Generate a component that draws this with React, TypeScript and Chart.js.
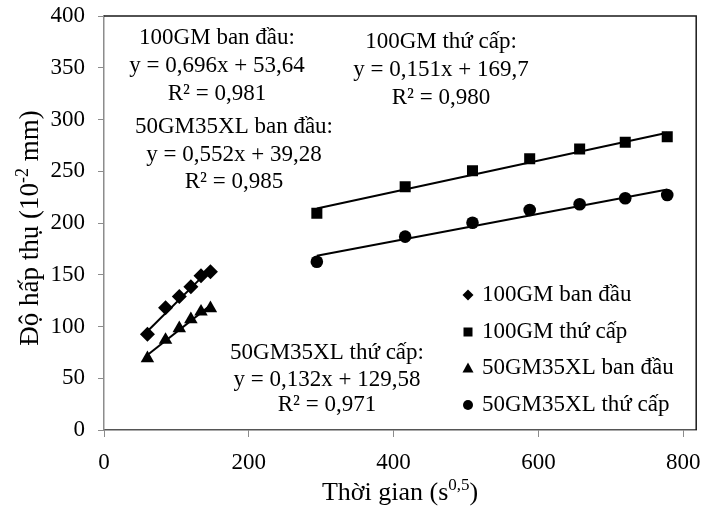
import React, { useEffect, useRef } from 'react';
import { Chart, registerables } from 'chart.js';

Chart.register(...registerables);

const seriesNames = ['100GM ban đầu', '100GM thứ cấp', '50GM35XL ban đầu', '50GM35XL thứ cấp'];
const xInitial = [60, 85, 104, 120, 134, 147];
const xSecondary = [294, 416, 509, 588, 657, 720, 778];
const y100GMInitial = [92.5, 118, 129, 138.5, 149, 153];
const y100GMSecondary = [209.4, 235, 250.5, 262, 271.5, 278, 283.4];
const y50GMInitial = [69.3, 87, 98.3, 107, 114.3, 117.6];
const y50GMSecondary = [162.6, 186.8, 200.3, 212.6, 218.1, 223.9, 227];
const trendSlopes = [0.696, 0.151, 0.552, 0.132];
const trendIntercepts = [53.64, 169.7, 39.28, 129.58];
const equationTexts = [
  ['100GM ban đầu:', 'y = 0,696x + 53,64', 'R² = 0,981'],
  ['100GM thứ cấp:', 'y = 0,151x + 169,7', 'R² = 0,980'],
  ['50GM35XL ban đầu:', 'y = 0,552x + 39,28', 'R² = 0,985'],
  ['50GM35XL thứ cấp:', 'y = 0,132x + 129,58', 'R² = 0,971'],
];
const xTicks = [0, 200, 400, 600, 800];
const yTicks = [0, 50, 100, 150, 200, 250, 300, 350, 400];
const xTitleParts = [{ t: 'Thời gian (s', sup: false }, { t: '0,5', sup: true }, { t: ')', sup: false }];
const yTitleParts = [{ t: 'Độ hấp thụ (10', sup: false }, { t: '-2', sup: true }, { t: ' mm)', sup: false }];

// layout (pixels)
const FONT = "'Liberation Serif', 'Times New Roman', serif";
const eqLayout = [
  { x: 217, y: [38, 66, 94] },
  { x: 441, y: [42, 70, 98] },
  { x: 234, y: [127, 155, 182] },
  { x: 327, y: [353, 380, 405] },
];
const legendLayout = { mx: 468, tx: 482, y: [295, 332, 368, 405] };

function drawRich(ctx: CanvasRenderingContext2D, parts: { t: string; sup: boolean }[], cx: number, cy: number, size: number) {
  const supSize = Math.round(size * 0.65);
  let total = 0;
  const widths = parts.map((p) => {
    ctx.font = `${p.sup ? supSize : size}px ${FONT}`;
    const w = ctx.measureText(p.t).width;
    total += w;
    return w;
  });
  let x = cx - total / 2;
  ctx.textAlign = 'left';
  ctx.textBaseline = 'alphabetic';
  const base = cy + size * 0.33;
  parts.forEach((p, i) => {
    ctx.font = `${p.sup ? supSize : size}px ${FONT}`;
    ctx.fillText(p.t, x, p.sup ? base - size * 0.38 : base);
    x += widths[i];
  });
}

function drawMarker(ctx: CanvasRenderingContext2D, style: string, x: number, y: number) {
  ctx.beginPath();
  if (style === 'rectRot') {
    const r = 5.5;
    ctx.moveTo(x - r, y); ctx.lineTo(x, y - r); ctx.lineTo(x + r, y); ctx.lineTo(x, y + r);
  } else if (style === 'rect') {
    ctx.rect(x - 4.5, y - 4.5, 9, 9);
  } else if (style === 'triangle') {
    ctx.moveTo(x, y - 5.5); ctx.lineTo(x + 5.5, y + 4.5); ctx.lineTo(x - 5.5, y + 4.5);
  } else {
    ctx.arc(x, y, 5, 0, Math.PI * 2);
  }
  ctx.closePath();
  ctx.fill();
}

const pointStyles = ['rectRot', 'rect', 'triangle', 'circle'];
const pointRadii = [7.5, 7.8, 7.8, 6.3];

export default function App() {
  const ref = useRef<HTMLCanvasElement>(null);
  useEffect(() => {
    const canvas = ref.current;
    if (!canvas) return;
    const seriesX = [xInitial, xSecondary, xInitial, xSecondary];
    const seriesY = [y100GMInitial, y100GMSecondary, y50GMInitial, y50GMSecondary];

    const datasets: any[] = [];
    seriesNames.forEach((name, k) => {
      const xs = seriesX[k];
      datasets.push({
        type: 'scatter',
        label: name,
        data: xs.map((x, i) => ({ x, y: seriesY[k][i] })),
        pointStyle: pointStyles[k],
        pointRadius: pointRadii[k],
        backgroundColor: '#000',
        borderColor: '#000',
        borderWidth: 0,
        order: 1,
      });
      const ends = [xs[0], xs[xs.length - 1]];
      datasets.push({
        type: 'line',
        label: name + ' trend',
        data: ends.map((x) => ({ x, y: trendSlopes[k] * x + trendIntercepts[k] })),
        borderColor: '#000',
        borderWidth: 2,
        pointRadius: 0,
        fill: false,
        order: 2,
      });
    });

    const decor = {
      id: 'decor',
      afterDraw(chart: any) {
        const ctx = chart.ctx as CanvasRenderingContext2D;
        const a = chart.chartArea;
        ctx.save();
        // top and right frame
        ctx.strokeStyle = '#1a1a1a';
        ctx.lineWidth = 1.5;
        ctx.beginPath();
        ctx.moveTo(a.left, a.top);
        ctx.lineTo(a.right, a.top);
        ctx.lineTo(a.right, a.bottom);
        ctx.stroke();
        ctx.fillStyle = '#000';
        // equations
        ctx.font = `23px ${FONT}`;
        ctx.textAlign = 'center';
        ctx.textBaseline = 'middle';
        equationTexts.forEach((lines, k) => {
          lines.forEach((ln, j) => ctx.fillText(ln, eqLayout[k].x, eqLayout[k].y[j]));
        });
        // legend
        seriesNames.forEach((name, k) => {
          drawMarker(ctx, pointStyles[k], legendLayout.mx, legendLayout.y[k]);
          ctx.font = `23px ${FONT}`;
          ctx.textAlign = 'left';
          ctx.textBaseline = 'middle';
          ctx.fillText(name, legendLayout.tx, legendLayout.y[k]);
        });
        // axis titles
        drawRich(ctx, xTitleParts, (a.left + a.right) / 2, 491, 26);
        ctx.translate(29, 228);
        ctx.rotate(-Math.PI / 2);
        drawRich(ctx, yTitleParts, 0, 0, 27);
        ctx.restore();
      },
    };

    const chart = new Chart(canvas, {
      type: 'scatter',
      data: { datasets },
      options: {
        animation: false,
        responsive: true,
        maintainAspectRatio: false,
        layout: { padding: { left: 0, top: 16, right: 4, bottom: 0 } },
        plugins: { legend: { display: false }, tooltip: { enabled: false } },
        scales: {
          x: {
            type: 'linear',
            min: 0,
            max: 818,
            afterBuildTicks: (s: any) => { s.ticks = xTicks.map((v) => ({ value: v })); },
            afterFit: (s: any) => { s.height = 81; s.paddingLeft = 0; s.paddingRight = 0; },
            grid: { display: true, drawOnChartArea: false, drawTicks: true, tickLength: 7, color: '#8c8c8c', lineWidth: 1 },
            border: { display: true, color: '#555', width: 1.5 },
            ticks: { font: { family: FONT, size: 23 }, color: '#000', padding: 12, maxRotation: 0, autoSkip: false },
          },
          y: {
            type: 'linear',
            min: 0,
            max: 400,
            afterBuildTicks: (s: any) => { s.ticks = yTicks.map((v) => ({ value: v })); },
            afterFit: (s: any) => { s.width = 104; s.paddingTop = 0; s.paddingBottom = 0; },
            grid: { display: true, drawOnChartArea: false, drawTicks: true, tickLength: 6, color: '#8c8c8c', lineWidth: 1 },
            border: { display: true, color: '#8c8c8c', width: 1.5 },
            ticks: { font: { family: FONT, size: 23 }, color: '#000', padding: 13, autoSkip: false },
          },
        },
      },
      plugins: [decor],
    } as any);
    return () => chart.destroy();
  }, []);
  return (
    <div style={{ position: 'absolute', left: 0, top: 0, width: 704, height: 511 }}>
      <canvas ref={ref} />
    </div>
  );
}
